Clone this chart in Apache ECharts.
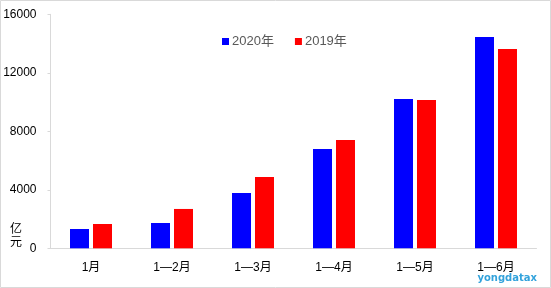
<!DOCTYPE html>
<html><head><meta charset="utf-8">
<script src="https://cdn.jsdelivr.net/npm/echarts@6/dist/echarts.min.js"></script>
<style>html,body{margin:0;padding:0;background:#fff}#c{width:551px;height:288px}</style>
</head><body><div id="c"></div>
<script>
var categories = ['1月','1—2月','1—3月','1—4月','1—5月','1—6月'];
var s2020 = [1320, 1730, 3780, 6790, 10210, 14450];
var s2019 = [1660, 2690, 4875, 7405, 10140, 13630];
var yTicks = [0, 4000, 8000, 12000, 16000];
var FONT = '"Liberation Sans", Arial, "Noto Sans CJK SC", sans-serif';
var chart = echarts.init(document.getElementById('c'));
chart.setOption({
  animation: false,
  textStyle: {fontFamily: FONT},
  grid: {left: 50.5, right: 14.5, top: 14.3, bottom: 39.7, containLabel: false, outerBoundsMode: 'none'},
  legend: {
    top: 30, left: 217, itemWidth: 7, itemHeight: 7, itemGap: 21,
    icon: 'rect',
    textStyle: {color: '#595959', fontSize: 13, fontFamily: FONT, padding: [0,0,0,-2]},
    data: ['2020年','2019年']
  },
  xAxis: {
    type: 'category', data: categories,
    axisLine: {lineStyle: {color: '#d9d9d9'}},
    axisTick: {show: false},
    axisLabel: {color: '#000', fontSize: 12, margin: 13, fontFamily: FONT}
  },
  yAxis: {
    type: 'value', min: yTicks[0], max: yTicks[yTicks.length-1], interval: 4000,
    axisLine: {show: true, lineStyle: {color: '#d9d9d9'}},
    axisTick: {show: true, length: 3, lineStyle: {color: '#d9d9d9'}},
    splitLine: {show: false},
    axisLabel: {color: '#000', fontSize: 12, margin: 14, fontFamily: FONT, formatter: function(v){return String(v);}}
  },
  series: [
    {name: '2020年', type: 'bar', data: s2020, barWidth: 19, barGap: '21%', itemStyle: {color: '#0000ff'}},
    {name: '2019年', type: 'bar', data: s2019, barWidth: 19, itemStyle: {color: '#ff0000'}}
  ],
  graphic: [
    {type: 'rect', shape: {x: 0.5, y: 0.5, width: 550, height: 287}, style: {fill: null, stroke: '#d9d9d9', lineWidth: 1}, silent: true},
    {type: 'text', left: 10, top: 222, style: {text: '亿\n元', font: '12px "Noto Sans CJK SC", sans-serif', fill: '#000', lineHeight: 13}},
    {type: 'text', right: 14, top: 273, style: {text: 'yongdatax', font: 'bold 10px "DejaVu Sans", sans-serif', fill: '#33a3dc'}}
  ]
});
</script></body></html>
